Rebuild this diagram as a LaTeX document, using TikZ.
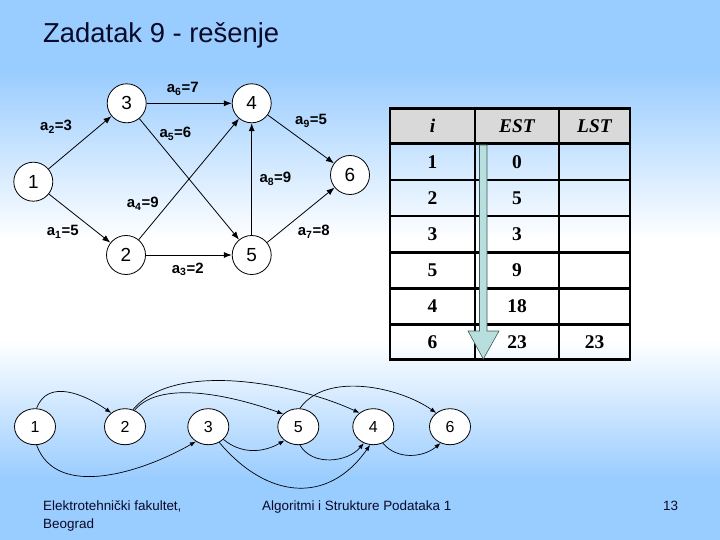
\documentclass[tikz,border=0pt]{standalone}
\usepackage{fontspec}
\setmainfont{Liberation Sans}
\newfontfamily\tms{Liberation Serif}
\usetikzlibrary{arrows.meta,shapes.geometric}
\definecolor{bgblue}{RGB}{153,204,255}
\definecolor{titlecol}{RGB}{10,10,40}
\definecolor{hdrgray}{RGB}{217,217,217}
\definecolor{arrfill}{RGB}{185,222,222}
\definecolor{arredge}{RGB}{60,90,90}
\pgfdeclareverticalshading{bgshade}{100bp}{color(0bp)=(bgblue); color(30.6bp)=(bgblue); color(43.5bp)=(white); color(52.8bp)=(white); color(68.5bp)=(bgblue); color(100bp)=(bgblue)}
\begin{document}
\begin{tikzpicture}[x=1bp,y=-1bp,
  gnode/.style={circle, draw, line width=0.8bp, fill=white, minimum size=39bp, inner sep=0pt, font=\fontsize{19}{19}\selectfont},
  lbl/.style={anchor=base west, inner sep=0pt, font=\bfseries\fontsize{15}{15}\selectfont},
  gedge/.style={-{Latex[length=8bp,width=6bp]}, line width=0.8bp},
  bnode/.style={ellipse, draw, line width=0.8bp, fill=white, minimum width=41bp, minimum height=36bp, inner sep=0pt, font=\fontsize{16}{16}\selectfont},
  bedge/.style={-{Latex[length=6bp,width=4.5bp]}, line width=0.7bp},
  cell/.style={font=\tms\bfseries\fontsize{19.5}{19.5}\selectfont},
  hcell/.style={font=\tms\bfseries\itshape\fontsize{19.5}{19.5}\selectfont},
  tline/.style={line width=2.5bp},
  foot/.style={inner sep=0pt, text=titlecol, font=\fontsize{13.5}{18}\selectfont}
]
\useasboundingbox (0,0) rectangle (720,540);
\shade[shading=bgshade] (0,0) rectangle (720,540);

% title
\node[anchor=base west, inner sep=0pt, text=titlecol, font=\fontsize{27.5}{30}\selectfont] (title) at (43,42.7) {Zadatak 9 - rešenje};

% top graph
\node[gnode] (n1) at (33.3,181.7) {1};
\node[gnode] (n2) at (126,255) {2};
\node[gnode] (n3) at (126.7,103.3) {3};
\node[gnode] (n4) at (251.7,103.3) {4};
\node[gnode] (n5) at (251.7,255) {5};
\node[gnode] (n6) at (350,175) {6};
\draw[gedge] (n1) -- (n3);
\draw[gedge] (n1) -- (n2);
\draw[gedge] (n3) -- (n4);
\draw[gedge] (n3) -- (n5);
\draw[gedge] (n2) -- (n4);
\draw[gedge] (n2) -- (n5);
\draw[gedge] (n5) -- (n4);
\draw[gedge] (n4) -- (n6);
\draw[gedge] (n5) -- (n6);
\node[lbl] (l6) at (166.7,92.7) {a\textsubscript{6}=7};
\node[lbl] (l2) at (40,131) {a\textsubscript{2}=3};
\node[lbl] (l5) at (159.3,138) {a\textsubscript{5}=6};
\node[lbl] (l9) at (295,125) {a\textsubscript{9}=5};
\node[lbl] (l8) at (259.3,182.7) {a\textsubscript{8}=9};
\node[lbl] (l4) at (126.7,208) {a\textsubscript{4}=9};
\node[lbl] (l1) at (46.7,236) {a\textsubscript{1}=5};
\node[lbl] (l7) at (297.7,236) {a\textsubscript{7}=8};
\node[lbl] (l3) at (171.7,273.3) {a\textsubscript{3}=2};

% table
\fill[hdrgray] (390,108.3) rectangle (630,143.3);
\draw[tline] (390,143.3) -- (630,143.3);
\draw[tline] (390,180) -- (630,180);
\draw[tline] (390,216) -- (630,216);
\draw[tline] (390,252.3) -- (630,252.3);
\draw[tline] (390,288.3) -- (630,288.3);
\draw[tline] (390,324.3) -- (630,324.3);
\draw[tline] (475,108.3) -- (475,359.3);
\draw[tline] (559,108.3) -- (559,359.3);
\draw[tline] (390,108.3) rectangle (630,359.3);
\node[hcell] (h1) at (432.5,125.8) {i};
\node[hcell] (h2) at (517,125.8) {EST};
\node[hcell] (h3) at (594.5,125.8) {LST};
\node[cell] (a1) at (432.5,161.7) {1};
\node[cell] (b1) at (517,161.7) {0};
\node[cell] (a2) at (432.5,198) {2};
\node[cell] (b2) at (517,198) {5};
\node[cell] (a3) at (432.5,234) {3};
\node[cell] (b3) at (517,234) {3};
\node[cell] (a4) at (432.5,270.3) {5};
\node[cell] (b4) at (517,270.3) {9};
\node[cell] (a5) at (432.5,306.3) {4};
\node[cell] (b5) at (517,306.3) {18};
\node[cell] (a6) at (432.5,342) {6};
\node[cell] (b6) at (517,342) {23};
\node[cell] (c6) at (594.5,342) {23};
% big arrow
\draw[arredge, fill=arrfill, line width=0.6bp] (479.5,145) -- (487,145) -- (487,331) -- (499,331) -- (483.3,359) -- (468,331) -- (479.5,331) -- cycle;

% bottom graph
\node[bnode] (m1) at (35,426.7) {1};
\node[bnode] (m2) at (125,426.7) {2};
\node[bnode] (m3) at (208.3,426.7) {3};
\node[bnode] (m5) at (298.3,426.7) {5};
\node[bnode] (m4) at (373.3,426.7) {4};
\node[bnode] (m6) at (450,426.7) {6};
\draw[bedge] (m1.85) to[out=70,in=145,looseness=1.1] (m2.135);
\draw[bedge] (m1.-85) to[out=-70,in=-150,looseness=0.95] (m3.-130);
\draw[bedge] (m2.60) to[out=50,in=160,looseness=0.75] (m5.140);
\draw[bedge] (m2.65) to[out=50,in=155,looseness=0.75] (m4.135);
\draw[bedge] (m3.-40) to[out=-40,in=-150,looseness=1] (m5.-135);
\draw[bedge] (m3.-55) to[out=-50,in=-125,looseness=1.25] (m4.-100);
\draw[bedge] (m5.-85) to[out=-60,in=-130,looseness=1] (m4.-120);
\draw[bedge] (m5.85) to[out=55,in=145,looseness=0.85] (m6.135);
\draw[bedge] (m4.-60) to[out=-50,in=-140,looseness=1] (m6.-120);

% footer
\node[foot, anchor=north west, align=left] (f1) at (43,500.5) {Elektrotehnički fakultet,\\Beograd};
\node[foot, anchor=north west] (f2) at (262,500.5) {Algoritmi i Strukture Podataka 1};
\node[foot, anchor=north west] (f3) at (663,500.5) {13};
\end{tikzpicture}
\end{document}
